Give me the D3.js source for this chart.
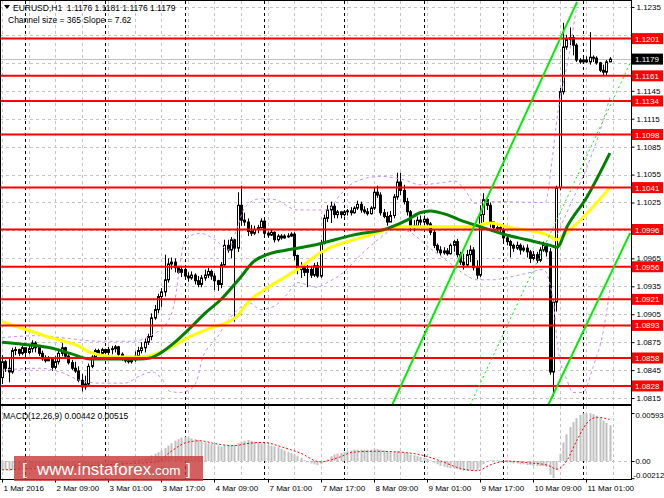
<!DOCTYPE html>
<html><head><meta charset="utf-8">
<script src="https://cdn.jsdelivr.net/npm/d3@7"></script>
<style>html,body{margin:0;padding:0;background:#fff;}svg{display:block;font-family:"Liberation Sans",Arial,sans-serif;}</style>
</head><body><svg id="c" width="664" height="498"></svg>
<script>
// ---------------- DATA ----------------
const symbolHeader = "EURUSD,H1  1.1176 1.1181 1.1176 1.1179";
const channelHeader = "Channel size = 365 Slope = 7.62";
const macdHeader = "MACD(12,26,9) 0.00442 0.00515";
const firstOpen = 1.0837;
const closes = [
1.0854,1.0847,1.0843,1.0866,1.0867,1.0863,1.0869,1.0864,1.0868,1.0874,
1.0869,1.0863,1.0857,1.0855,1.0857,1.0848,1.0854,1.0863,1.0869,1.0860,
1.0853,1.0847,1.0844,1.0834,1.0827,1.0830,1.0849,1.0859,1.0866,1.0863,
1.0867,1.0864,1.0867,1.0868,1.0870,1.0862,1.0858,1.0855,1.0854,1.0856,
1.0860,1.0866,1.0869,1.0875,1.0881,1.0901,1.0910,1.0924,1.0929,1.0942,
1.0959,1.0961,1.0955,1.0950,1.0953,1.0946,1.0944,1.0947,1.0941,1.0937,
1.0944,1.0947,1.0951,1.0946,1.0941,1.0937,1.0958,1.0979,1.0974,1.0985,
1.0976,1.1022,1.1006,1.1004,1.0994,1.0992,1.0996,1.0998,1.1005,1.0992,
1.0990,1.0993,1.0985,1.0989,1.0987,1.0989,1.0989,1.0991,1.0968,1.0953,
1.0956,1.0950,1.0953,1.0947,1.0957,1.0946,1.0981,1.1008,1.1017,1.1021,
1.1012,1.1015,1.1012,1.1015,1.1016,1.1014,1.1019,1.1023,1.1017,1.1015,
1.1013,1.1019,1.1036,1.1033,1.1014,1.1010,1.1004,1.1011,1.1031,1.1047,
1.1038,1.1026,1.1015,1.0998,1.1000,1.1006,1.1004,1.1007,1.1002,1.0993,
1.0979,1.0974,1.0971,1.0973,1.0970,1.0979,1.0983,1.0969,1.0961,1.0958,
1.0969,1.0974,1.0955,1.0947,1.1012,1.1028,1.1022,1.1004,1.0998,1.0998,
1.0996,1.0987,1.0983,1.0979,1.0976,1.0979,1.0974,1.0976,1.0972,1.0965,
1.0969,1.0963,1.0974,1.0979,1.0972,1.0843,1.0918,1.1041,1.1144,1.1192,
1.1200,1.1202,1.1194,1.1178,1.1176,1.1178,1.1176,1.1181,1.1180,1.1175,
1.1167,1.1165,1.1176,1.1179];
const highs = [
1.0861,1.0856,1.0858,1.0869,1.0870,1.0868,1.0871,1.0869,1.0871,1.0877,
1.0876,1.0872,1.0866,1.0861,1.0860,1.0859,1.0860,1.0868,1.0874,1.0870,
1.0862,1.0856,1.0854,1.0849,1.0841,1.0839,1.0852,1.0861,1.0868,1.0868,
1.0869,1.0868,1.0870,1.0871,1.0872,1.0871,1.0864,1.0860,1.0859,1.0859,
1.0865,1.0870,1.0875,1.0879,1.0884,1.0906,1.0915,1.0927,1.0933,1.0969,
1.0965,1.0966,1.0965,1.0957,1.0957,1.0955,1.0950,1.0951,1.0949,1.0946,
1.0947,1.0953,1.0955,1.0953,1.0949,1.0942,1.0961,1.0985,1.0985,1.0988,
1.0986,1.1036,1.1043,1.1014,1.1008,1.1001,1.1000,1.1001,1.1008,1.1006,
1.0994,1.0996,1.0994,1.0991,1.0991,1.0991,1.0992,1.0993,1.0993,1.0969,
1.0961,1.0959,1.0958,1.0957,1.0960,1.0961,1.0985,1.1012,1.1022,1.1026,
1.1024,1.1017,1.1015,1.1017,1.1018,1.1020,1.1021,1.1027,1.1026,1.1021,
1.1019,1.1021,1.1041,1.1043,1.1036,1.1018,1.1015,1.1016,1.1034,1.1057,
1.1057,1.1044,1.1030,1.1017,1.1006,1.1010,1.1011,1.1011,1.1008,1.1004,
1.0996,1.0981,1.0978,1.0977,1.0976,1.0981,1.0985,1.0986,1.0972,1.0970,
1.0974,1.0979,1.0977,1.0963,1.1022,1.1035,1.1030,1.1025,1.1004,1.1002,
1.1000,1.0998,1.0989,1.0985,1.0981,1.0983,1.0981,1.0979,1.0980,1.0974,
1.0973,1.0972,1.0977,1.0983,1.0980,1.0976,1.0920,1.1043,1.1148,1.1218,
1.1205,1.1213,1.1205,1.1196,1.1180,1.1180,1.1182,1.1208,1.1183,1.1182,
1.1176,1.1173,1.1178,1.1181];
const lows = [
1.0830,1.0843,1.0832,1.0841,1.0861,1.0860,1.0861,1.0861,1.0862,1.0864,
1.0864,1.0860,1.0855,1.0853,1.0855,1.0844,1.0846,1.0851,1.0860,1.0858,
1.0851,1.0845,1.0842,1.0832,1.0822,1.0824,1.0828,1.0847,1.0857,1.0860,
1.0861,1.0862,1.0861,1.0862,1.0864,1.0860,1.0855,1.0853,1.0852,1.0852,
1.0854,1.0859,1.0863,1.0864,1.0872,1.0877,1.0899,1.0906,1.0913,1.0924,
1.0939,1.0953,1.0950,1.0948,1.0945,1.0942,1.0940,1.0942,1.0937,1.0934,
1.0934,1.0941,1.0944,1.0942,1.0931,1.0930,1.0933,1.0957,1.0971,1.0965,
1.0897,1.0972,1.1000,1.1000,1.0989,1.0989,1.0990,1.0992,1.0997,1.0989,
1.0987,1.0989,1.0982,1.0983,1.0985,1.0986,1.0987,1.0988,1.0963,1.0948,
1.0944,1.0946,1.0934,1.0944,1.0945,1.0944,1.0944,1.0980,1.1004,1.1003,
1.1008,1.1008,1.1008,1.1010,1.1011,1.1011,1.1013,1.1017,1.1014,1.1013,
1.1011,1.1012,1.1017,1.1030,1.1011,1.1008,1.1000,1.1004,1.1008,1.1028,
1.1033,1.1023,1.1011,1.0994,1.0994,1.0998,1.1000,1.1001,1.0999,1.0990,
1.0976,1.0971,1.0968,1.0969,1.0968,1.0969,1.0972,1.0966,1.0958,1.0953,
1.0956,1.0961,1.0952,1.0943,1.0945,1.1004,1.1017,1.0998,1.0994,1.0994,
1.0991,1.0983,1.0979,1.0966,1.0972,1.0974,1.0969,1.0972,1.0966,1.0960,
1.0963,1.0960,1.0961,1.0972,1.0967,1.0840,1.0817,1.0908,1.1038,1.1141,
1.1189,1.1194,1.1183,1.1176,1.1174,1.1174,1.1175,1.1173,1.1176,1.1173,
1.1165,1.1161,1.1162,1.1176];
// moving averages, read as [bar index, price]
const maYellow = [[0,1.0897],[14.5,1.0880],[23.5,1.0870],[26.5,1.0864],[35.5,1.0859],[41.6,1.0859],[47.6,1.0864],[50.6,1.0869],[56.6,1.0881],[62.7,1.0890],[70.2,1.0901],[74.7,1.0920],[79.8,1.0933],[88.9,1.0953],[95.8,1.0971],[110.8,1.0990],[116,1.0996],[120.8,1.0999],[141,1.0999],[147,1.1003],[152.1,1.0999],[165.1,1.0989],[166.9,1.0985],[171.1,1.0996],[183.1,1.1041]];
const maGreen = [[0,1.0875],[8.4,1.0872],[14.5,1.0869],[20.5,1.0863],[26.5,1.0857],[41.6,1.0857],[44.6,1.0858],[47.6,1.0863],[52.1,1.0875],[56.6,1.0890],[61.1,1.0906],[65.7,1.0920],[71.7,1.0944],[75.6,1.0961],[79.8,1.0969],[85.8,1.0974],[93.7,1.0979],[105.7,1.0990],[116,1.0997],[122,1.1006],[125.9,1.1014],[128.9,1.1016],[134,1.1012],[138,1.1006],[144,1.0999],[152.1,1.0990],[158.1,1.0985],[165.1,1.0979],[167.2,1.0977],[170.2,1.0999],[176.2,1.1031],[183.1,1.1078]];
const bandUpper = [[0,1.0880],[11.4,1.0882],[17.5,1.0880],[29.5,1.0876],[39.5,1.0876],[45.2,1.0883],[49.7,1.0896],[52.1,1.0920],[53.6,1.0958],[55.1,1.0985],[59.6,1.0992],[64.2,1.0985],[68.1,1.0974],[71.1,1.1001],[73.2,1.1020],[77.7,1.1029],[82.2,1.1028],[88.9,1.1017],[97.9,1.1017],[101.8,1.1033],[106.3,1.1047],[113.9,1.1053],[121.4,1.1049],[125.9,1.1044],[131.9,1.1046],[136.4,1.1048],[139.5,1.1038],[142.5,1.1024],[148.5,1.1026],[163.6,1.1025],[165.7,1.1071],[167.5,1.1124],[170.5,1.1178],[173.5,1.1243],[175,1.1270]];
const bandLower = [[0,1.0845],[11.4,1.0847],[17.5,1.0843],[23.5,1.0834],[29.5,1.0831],[37,1.0831],[41.6,1.0839],[45.2,1.0843],[48.5,1.0834],[50.6,1.0822],[53.6,1.0821],[56.6,1.0824],[58.7,1.0834],[60.5,1.0859],[64.2,1.0877],[68.7,1.0901],[74.7,1.0917],[77.7,1.0910],[81.6,1.0913],[85.8,1.0926],[88.9,1.0939],[94.9,1.0934],[97.9,1.0939],[101.8,1.0947],[108.7,1.0971],[113.9,1.0987],[119,1.0998],[122.9,1.0993],[128.9,1.0976],[134.9,1.0960],[138.9,1.0949],[143.1,1.0942],[147.9,1.0942],[153,1.0945],[158.1,1.0949],[163,1.0953],[166,1.0920],[167.5,1.0867],[170.2,1.0834],[172,1.0821],[175,1.0821],[178,1.0848],[181,1.0885],[183.1,1.0931]];
const bandExtra = [[166.6,1.0985],[171.1,1.1022],[176.2,1.1063],[179.2,1.1092],[183.1,1.1138]];
// regression channel lines [bar index, price]
const channelUpper = [[117.5,1.08075],[173.2,1.12404]];
const channelMiddle = [[141,1.08075],[189.2,1.11748]];
const channelLower = [[164.5,1.08075],[189.2,1.09923]];
// horizontal levels
const levels = [1.1201,1.1161,1.1134,1.1098,1.1041,1.0996,1.0956,1.0921,1.0893,1.0858,1.0828];
const lastPrice = 1.1179;
const priceTicks = [1.0815,1.0845,1.0875,1.0905,1.0935,1.0965,1.0995,1.1025,1.1055,1.1085,1.1115,1.1145,1.1175,1.1205,1.1235];
const timeTickIdx = [0,16,32,48,64,80,96,112,128,144,160,176];
const timeTickLabels = ["1 Mar 2016","2 Mar 09:00","3 Mar 01:00","3 Mar 17:00","4 Mar 09:00","7 Mar 01:00","7 Mar 17:00","8 Mar 09:00","9 Mar 01:00","9 Mar 17:00","10 Mar 09:00","11 Mar 01:00"];
const daySepIdx = [7,31,55,79,103,127,151,175];
// MACD
const macdHist = [
-0.0011,-0.0011,-0.0012,-0.0011,-0.0010,-0.0010,-0.0009,-0.0009,-0.0009,-0.0008,
-0.0008,-0.0008,-0.0008,-0.0008,-0.0008,-0.0009,-0.0009,-0.0008,-0.0007,-0.0007,
-0.0008,-0.0009,-0.0010,-0.0011,-0.0013,-0.0014,-0.0013,-0.0012,-0.0011,-0.0010,
-0.0009,-0.0008,-0.0007,-0.0006,-0.0005,-0.0004,-0.0003,-0.0002,-0.0001,0.0000,
0.0001,0.0002,0.0003,0.0004,0.0005,0.0007,0.0009,0.0011,0.0013,0.0016,
0.0019,0.0022,0.0025,0.0027,0.0029,0.0030,0.0029,0.0028,0.0027,0.0026,
0.0024,0.0023,0.0022,0.0021,0.0020,0.0019,0.0018,0.0019,0.0019,0.0019,
0.0020,0.0022,0.0024,0.0025,0.0026,0.0025,0.0024,0.0023,0.0022,0.0022,
0.0020,0.0019,0.0018,0.0017,0.0015,0.0013,0.0011,0.0010,0.0008,0.0006,
0.0004,0.0001,-0.0001,-0.0003,-0.0004,-0.0005,-0.0004,-0.0001,0.0002,0.0006,
0.0008,0.0009,0.0010,0.0011,0.0012,0.0013,0.0014,0.0014,0.0014,0.0014,
0.0014,0.0014,0.0015,0.0015,0.0014,0.0013,0.0012,0.0011,0.0011,0.0012,
0.0012,0.0011,0.0010,0.0008,0.0007,0.0006,0.0005,0.0004,0.0003,0.0001,
-0.0002,-0.0004,-0.0006,-0.0007,-0.0008,-0.0009,-0.0009,-0.0010,-0.0011,-0.0012,
-0.0012,-0.0011,-0.0011,-0.0011,-0.0008,-0.0004,0.0000,0.0001,0.0001,0.0001,
0.0000,0.0000,-0.0001,-0.0002,-0.0003,-0.0003,-0.0004,-0.0004,-0.0005,-0.0005,
-0.0006,-0.0006,-0.0006,-0.0006,-0.0007,-0.0017,-0.0021,-0.0011,0.0009,0.0023,
0.0033,0.0042,0.0048,0.0053,0.0057,0.0059,0.00593,0.0059,0.0058,0.0056,
0.0053,0.0050,0.0047,0.00442];
const macdSignal = [[0,-0.0011],[11.4,-0.0009],[26.5,-0.0006],[38.6,-0.0003],[46.7,-0.0001],[50.6,0.0011],[55.7,0.0023],[59.6,0.0025],[64.8,0.0021],[69.6,0.0019],[74.7,0.0022],[78.6,0.0023],[84.6,0.0017],[89.8,0.0010],[95.8,-0.0001],[101.8,0.0005],[105.7,0.0011],[112.9,0.0012],[119.9,0.0011],[126.8,0.0007],[132.8,-0.0001],[138,-0.0009],[143.1,-0.0012],[147,-0.0005],[152.1,0.0000],[158.1,-0.0002],[164.2,-0.0005],[167.2,-0.0010],[170.2,0.0001],[173.2,0.0026],[176.2,0.0047],[179.2,0.0054],[183,0.00515]];
const macdTicks = [0.00593,0,-0.00212];
const macdTickLabels = ["0.00593","0.00","-0.00212"];

// ---------------- DRAW ----------------
const svg = d3.select("#c");
const PL=0, PR=631, PT=1, PB=404, MT=406, MB=479;
const x = d3.scaleLinear().domain([0,183]).range([2,609.56]);
const y = d3.scaleLinear().domain([1.08086,1.12414]).range([PB,PT]);
const ym = d3.scaleLinear().domain([-0.00222,0.0068]).range([MB,MT]);
const FONT = "Liberation Sans, Arial, sans-serif";

svg.append("rect").attr("width",664).attr("height",498).attr("fill","#fff");
const defs = svg.append("defs");
defs.append("clipPath").attr("id","cp").append("rect").attr("x",PL).attr("y",PT).attr("width",PR-PL).attr("height",PB-PT);
defs.append("clipPath").attr("id","cm").append("rect").attr("x",PL).attr("y",MT).attr("width",PR-PL).attr("height",MB-MT);

const gP = svg.append("g").attr("clip-path","url(#cp)");
const gM = svg.append("g").attr("clip-path","url(#cm)");

// grid horizontal
gP.selectAll(".hg").data(priceTicks).join("line")
  .attr("x1",PL).attr("x2",PR).attr("y1",d=>Math.round(y(d))+0.5).attr("y2",d=>Math.round(y(d))+0.5)
  .attr("stroke","#c4c4c4").attr("stroke-dasharray","3,3");
gM.append("line").attr("x1",PL).attr("x2",PR).attr("y1",Math.round(ym(0))+0.5).attr("y2",Math.round(ym(0))+0.5)
  .attr("stroke","#c4c4c4").attr("stroke-dasharray","3,3");
// grid vertical every 8 bars + day separators
const vGrid = d3.range(0,190,8);
[gP,gM].forEach((g,k)=>{
  g.selectAll(".vg").data(vGrid).join("line")
   .attr("x1",d=>Math.round(x(d))+0.5).attr("x2",d=>Math.round(x(d))+0.5)
   .attr("y1",k?MT:PT).attr("y2",k?MB:PB)
   .attr("stroke","#c4c4c4").attr("stroke-dasharray","3,3");
  g.selectAll(".ds").data(daySepIdx).join("line")
   .attr("x1",d=>Math.round(x(d))+0.5).attr("x2",d=>Math.round(x(d))+0.5)
   .attr("y1",k?MT:PT).attr("y2",k?MB:PB)
   .attr("stroke","#000").attr("stroke-dasharray","3,3");
});
// last price line
gP.append("line").attr("x1",PL).attr("x2",PR).attr("y1",Math.round(y(lastPrice))+0.5).attr("y2",Math.round(y(lastPrice))+0.5).attr("stroke","#c0c0c0");

// candles
const bars = closes.map((c,i)=>({i,o:i?closes[i-1]:firstOpen,h:highs[i],l:lows[i],c}));
const gc = gP.append("g");
gc.selectAll("line").data(bars).join("line")
  .attr("x1",d=>Math.round(x(d.i))+0.5).attr("x2",d=>Math.round(x(d.i))+0.5)
  .attr("y1",d=>y(d.h)).attr("y2",d=>y(d.l)).attr("stroke","#000").attr("stroke-width",1);
gc.selectAll("rect").data(bars).join("rect")
  .attr("x",d=>Math.round(x(d.i))-0.5).attr("width",2)
  .attr("y",d=>Math.min(y(d.o),y(d.c)))
  .attr("height",d=>Math.max(0.8,Math.abs(y(d.o)-y(d.c))))
  .attr("fill",d=>d.c>=d.o?"#fff":"#000").attr("stroke","#000").attr("stroke-width",1);

const line = d3.line().x(d=>x(d[0])).y(d=>y(d[1])).curve(d3.curveMonotoneX);
// bands
[bandUpper,bandLower,bandExtra].forEach(b=>gP.append("path").attr("d",line(b)).attr("fill","none")
  .attr("stroke","#c58ef0").attr("stroke-width",1).attr("stroke-dasharray","3,3"));
// MAs
gP.append("path").attr("d",line(maYellow)).attr("fill","none").attr("stroke","#ffff00").attr("stroke-width",3);
gP.append("path").attr("d",line(maGreen)).attr("fill","none").attr("stroke","#008000").attr("stroke-width",3);
// levels
gP.selectAll(".lv").data(levels).join("line")
  .attr("x1",PL).attr("x2",PR).attr("y1",d=>y(d)).attr("y2",d=>y(d))
  .attr("stroke","#ff0000").attr("stroke-width",2);
// channel
const sl = d3.line().x(d=>x(d[0])).y(d=>y(d[1]));
gP.append("path").attr("d",sl(channelUpper)).attr("stroke","#00ee00").attr("stroke-width",2).attr("fill","none");
gP.append("path").attr("d",sl(channelLower)).attr("stroke","#00ee00").attr("stroke-width",2).attr("fill","none");
gP.append("path").attr("d",sl(channelMiddle)).attr("stroke","#00ee00").attr("stroke-width",1).attr("stroke-dasharray","2,3").attr("fill","none");

// MACD
gM.selectAll(".hb").data(macdHist).join("rect")
  .attr("x",(d,i)=>Math.round(x(i))-0.5).attr("width",2)
  .attr("y",d=>Math.min(ym(d),ym(0))).attr("height",d=>Math.max(0.5,Math.abs(ym(d)-ym(0))))
  .attr("fill","#c0c0c0");
const ml = d3.line().x(d=>x(d[0])).y(d=>ym(d[1])).curve(d3.curveMonotoneX);
gM.append("path").attr("d",ml(macdSignal)).attr("fill","none").attr("stroke","#ff0000").attr("stroke-width",1).attr("stroke-dasharray","2,2");

// borders
const bd = svg.append("g").attr("stroke","#000").attr("fill","none");
bd.append("rect").attr("x",0.5).attr("y",0.5).attr("width",PR).attr("height",PB);
bd.append("rect").attr("x",0.5).attr("y",MT-0.5).attr("width",PR).attr("height",MB-MT+1);

// price axis (labels hidden where a level box sits on top of them)
const boxed = levels.concat([lastPrice]);
const yAxis = d3.axisRight(y).tickValues(priceTicks).tickFormat(d3.format(".4f")).tickSize(3).tickPadding(2);
const ga = svg.append("g").attr("transform",`translate(${PR+0.5},0)`).call(yAxis);
ga.select(".domain").remove();
ga.selectAll("line").attr("stroke","#000");
ga.selectAll("text").attr("font-size","8px").attr("font-family",FONT).attr("fill","#000").attr("dy","0.3em")
  .attr("display",d=>boxed.some(v=>Math.abs(y(v)-y(d))<6)?"none":null);
// level labels
const lab = svg.append("g");
boxed.forEach((v,k)=>{
  const yy=y(v);
  lab.append("rect").attr("x",PR+1).attr("y",yy-5.5).attr("width",31).attr("height",11).attr("fill",k<levels.length?"#ff0000":"#000");
  lab.append("text").attr("x",PR+4).attr("y",yy+3).attr("font-size","8px").attr("font-family",FONT).attr("fill","#fff").text(v.toFixed(4));
});

// MACD axis
const mAxis = d3.axisRight(ym).tickValues(macdTicks).tickFormat((d,i)=>macdTickLabels[i]).tickSize(3).tickPadding(2);
const gma = svg.append("g").attr("transform",`translate(${PR+0.5},0)`).call(mAxis);
gma.select(".domain").remove();
gma.selectAll("line").attr("stroke","#000");
gma.selectAll("text").attr("font-size","7.8px").attr("font-family",FONT).attr("fill","#000")
  .attr("dy",d=> d<-0.002 ? "-0.15em" : (d>0.005? "0.55em":"0.32em"))
  .attr("x",d=> d<0 ? 2 : 4);

// time axis
const xAxis = d3.axisBottom(x).tickValues(timeTickIdx).tickFormat((d,i)=>timeTickLabels[i]).tickSize(3).tickPadding(3);
const gx = svg.append("g").attr("transform",`translate(0,${MB+0.5})`).call(xAxis);
gx.select(".domain").remove();
gx.selectAll(".tick").attr("transform",d=>`translate(${Math.round(x(d))+0.5},0)`);
gx.selectAll("line").attr("stroke","#000");
gx.selectAll("text").attr("text-anchor","start").attr("x",1).attr("font-size","8px").attr("font-family",FONT).attr("fill","#000");

// headers
svg.append("path").attr("d","M4,5 L10,5 L7,9 Z").attr("fill","#000");
svg.append("text").attr("x",13).attr("y",11).attr("font-size","8.5px").attr("fill","#000").style("white-space","pre").text(symbolHeader);
svg.append("text").attr("x",8).attr("y",23).attr("font-size","8.5px").attr("fill","#000").text(channelHeader);
svg.append("text").attr("x",3).attr("y",419).attr("font-size","8.5px").attr("fill","#000").text(macdHeader);

// watermark
const wm = svg.append("g");
wm.append("rect").attr("x",14).attr("y",456).attr("width",189).attr("height",25).attr("fill","rgba(200,55,55,0.8)");
wm.append("text").attr("x",22).attr("y",475).attr("font-size","17px").attr("fill","#fff").text("[");
const wt = wm.append("text").attr("x",37).attr("y",475).attr("fill","#fff");
wt.append("tspan").attr("font-size","17px").text("www.instaforex");
wt.append("tspan").attr("font-size","13.5px").text(".com");
wm.append("text").attr("x",186).attr("y",475).attr("font-size","17px").attr("fill","#fff").text("]");
</script></body></html>
